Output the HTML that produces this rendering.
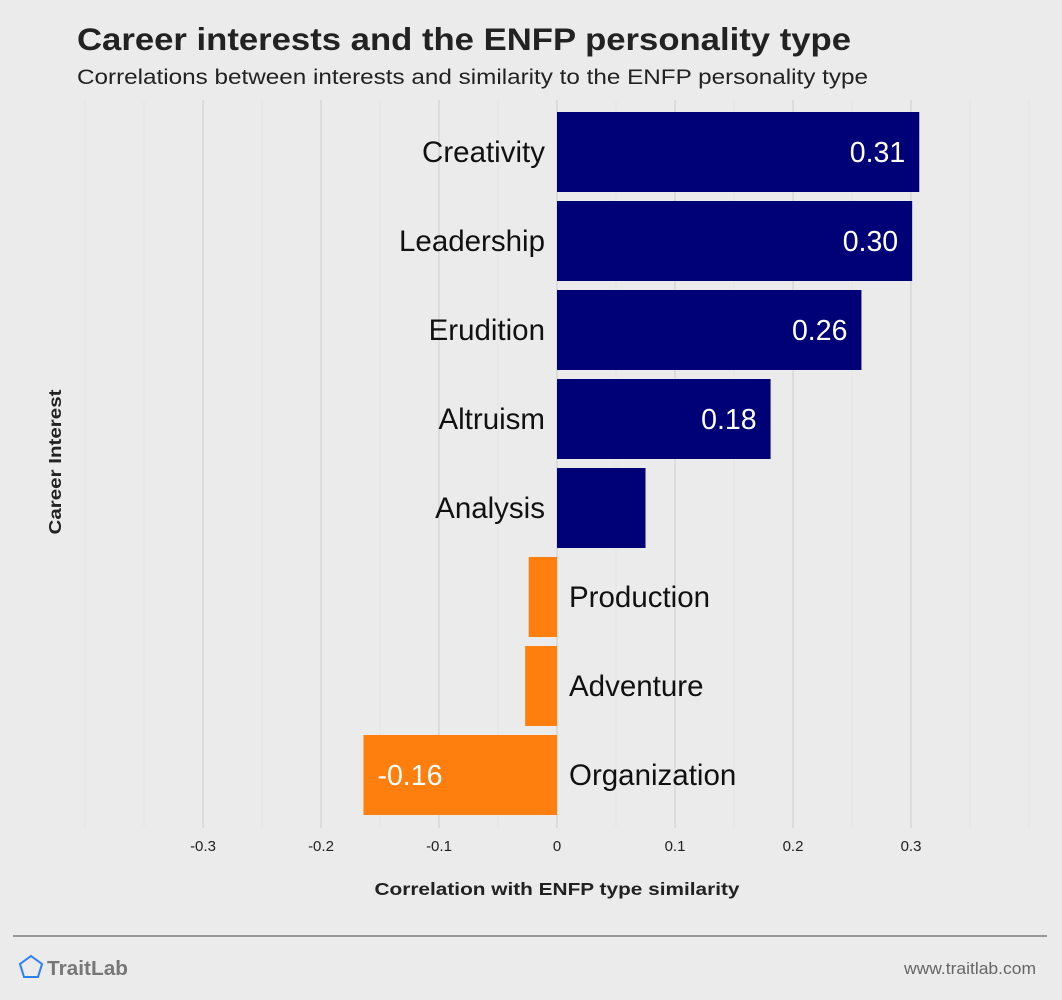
<!DOCTYPE html>
<html><head><meta charset="utf-8"><style>
body{margin:0;background:#ebebeb;font-family:"Liberation Sans",sans-serif;}
svg{display:block}
</style></head><body>
<svg id="c" width="1062" height="1000" xmlns="http://www.w3.org/2000/svg">
<rect width="1062" height="1000" fill="#ebebeb"/>
<text x="77" y="50" font-size="31.5" font-weight="bold" fill="#222" textLength="774" lengthAdjust="spacingAndGlyphs">Career interests and the ENFP personality type</text>
<text x="77" y="84" font-size="21.5" fill="#222" textLength="791" lengthAdjust="spacingAndGlyphs">Correlations between interests and similarity to the ENFP personality type</text>
<g id="grid"></g>
<g id="bars"></g>
<text x="0" y="0" transform="translate(61,462) rotate(-90)" text-anchor="middle" font-size="17.5" font-weight="bold" fill="#222" textLength="145" lengthAdjust="spacingAndGlyphs">Career Interest</text>
<text x="557" y="895" text-anchor="middle" font-size="17.5" font-weight="bold" fill="#222" textLength="365" lengthAdjust="spacingAndGlyphs">Correlation with ENFP type similarity</text>
<line x1="13" y1="936" x2="1047" y2="936" stroke="#666" stroke-width="1.3"/>
<polygon points="31,956 42,964 38,977 24,977 20,964" fill="none" stroke="#2b7fff" stroke-width="2"/>
<text x="47" y="975" font-size="20.5" font-weight="bold" fill="#777" textLength="81" lengthAdjust="spacingAndGlyphs">TraitLab</text>
<text x="1036" y="974" text-anchor="end" font-size="16.5" fill="#666" textLength="132" lengthAdjust="spacingAndGlyphs">www.traitlab.com</text>
</svg>
<script>
const categories=["Creativity","Leadership","Erudition","Altruism","Analysis","Production","Adventure","Organization"];
const values=[0.307,0.301,0.258,0.181,0.075,-0.024,-0.027,-0.164];
const valueLabels=["0.31","0.30","0.26","0.18","","","","-0.16"];
const tickValues=[-0.3,-0.2,-0.1,0,0.1,0.2,0.3];
const tickLabels=["-0.3","-0.2","-0.1","0","0.1","0.2","0.3"];
const NS="http://www.w3.org/2000/svg";
const x=v=>557+v*1180;
const yTop=i=>112+i*89;
const bh=80;
function mk(tag,attrs,parent){const e=document.createElementNS(NS,tag);for(const k in attrs)e.setAttribute(k,attrs[k]);parent.appendChild(e);return e;}
const grid=document.getElementById('grid'),bars=document.getElementById('bars');
for(let k=-8;k<=8;k++){
  const v=k*0.05;const major=k%2===0&&Math.abs(k)<8;
  const l=mk('line',{x1:x(v),x2:x(v),y1:100,y2:828,stroke:major?'#d9d9d9':'#e4e4e4','stroke-width':major?1.6:1},grid);
  
  
}
tickValues.forEach((v,i)=>{
  const t=mk('text',{x:x(v),y:851,'text-anchor':'middle','font-size':15,fill:'#222'},grid);
  t.textContent=tickLabels[i];
  
  
});
categories.forEach((c,i)=>{
  const v=values[i];const y0=yTop(i);
  const r=mk('rect',{x:Math.min(x(0),x(v)),y:y0,width:Math.abs(x(v)-x(0)),height:bh,fill:v>=0?'#000077':'#ff7f0e'},bars);
  
  
  const cl=mk('text',{x:v>=0?x(0)-12:x(0)+12,y:y0+bh/2+10,'text-anchor':v>=0?'end':'start','font-size':29.5,fill:'#111'},bars);
  cl.textContent=c;
  
  
  if(valueLabels[i]){
    const vl=mk('text',{x:v>=0?x(v)-14:x(v)+14,y:y0+bh/2+10,'text-anchor':v>=0?'end':'start','font-size':28.5,fill:'#fff'},bars);
    vl.textContent=valueLabels[i];
    
    
  }
});
</script>
</body></html>
